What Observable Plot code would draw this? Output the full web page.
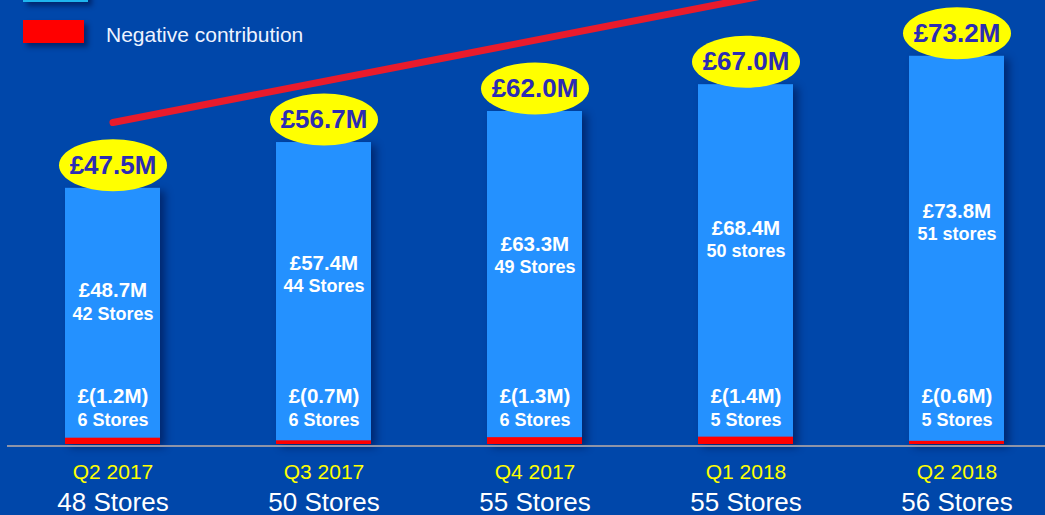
<!DOCTYPE html>
<html>
<head>
<meta charset="utf-8">
<script src="https://cdn.jsdelivr.net/npm/d3@7"></script>
<script src="https://cdn.jsdelivr.net/npm/@observablehq/plot@0.6"></script>
<style>
  html, body { margin: 0; padding: 0; background: #0047AA; overflow: hidden; }
  #wrap { position: relative; width: 1045px; height: 515px; font-family: "Liberation Sans", Arial, sans-serif; }
  #wrap svg { position: absolute; left: 0; top: 0; }
  .legend-box { position: absolute; left: 23px; width: 61px; box-shadow: 4px 4px 5px rgba(0,0,40,0.45); }
  .legend-label { position: absolute; left: 106px; color: #EEF3FF; font-size: 21px; white-space: nowrap; }
</style>
</head>
<body>
<div id="wrap">
  <div class="legend-box" style="top:-24px;height:22px;background:#2490FF;border:2px solid #1EB4EE;"></div>
  <div class="legend-box" style="top:20px;height:23px;background:#FF0000;"></div>
  <div class="legend-label" style="top:23px;line-height:24px;">Negative contribution</div>
</div>
<script>
// ---- data ----
const quarters = ["Q2 2017", "Q3 2017", "Q4 2017", "Q1 2018", "Q2 2018"];
const storeTotals = ["48 Stores", "50 Stores", "55 Stores", "55 Stores", "56 Stores"];
const netTotals = [47.5, 56.7, 62.0, 67.0, 73.2];          // £M, yellow ellipses
const positiveValues = [48.7, 57.4, 63.3, 68.4, 73.8];     // £M, blue bars
const positiveStores = ["42 Stores", "44 Stores", "49 Stores", "50 stores", "51 stores"];
const negativeValues = [1.2, 0.7, 1.3, 1.4, 0.6];          // £M, red bars
const negativeStores = ["6 Stores", "6 Stores", "6 Stores", "5 Stores", "5 Stores"];
const trendQuarters = ["Q2 2017", "Q2 2018"];
const trendValues = [61.2, 92.5];

const rows = quarters.map((q, i) => ({
  q, stores: storeTotals[i], net: netTotals[i], pos: positiveValues[i],
  posStores: positiveStores[i], neg: negativeValues[i], negStores: negativeStores[i]
}));
const trendRows = trendQuarters.map((q, i) => ({q, v: trendValues[i]}));

const fmt = v => "£" + v.toFixed(1) + "M";
const fmtNeg = v => "£(" + v.toFixed(1) + "M)";

// ellipse symbol for the total badges
const ellipse = {
  draw(ctx) {
    const rx = 54, ry = 26, k = 0.5523;
    ctx.moveTo(rx, 0);
    ctx.bezierCurveTo(rx, k * ry, k * rx, ry, 0, ry);
    ctx.bezierCurveTo(-k * rx, ry, -rx, k * ry, -rx, 0);
    ctx.bezierCurveTo(-rx, -k * ry, -k * rx, -ry, 0, -ry);
    ctx.bezierCurveTo(k * rx, -ry, rx, -k * ry, rx, 0);
    ctx.closePath();
  }
};

const font = "Liberation Sans, Arial, sans-serif";

const chart = Plot.plot({
  width: 1045,
  height: 515,
  marginLeft: 7,
  marginRight: 0,
  marginTop: 0,
  marginBottom: 71,
  style: {background: "transparent", fontFamily: font, overflow: "visible"},
  x: {domain: quarters, range: [65, 1004], paddingInner: 0.55, paddingOuter: 0, align: 0.5, axis: null},
  y: {domain: [0, 84.4], range: [444, 0], axis: null},
  marks: [
    Plot.barY(rows, {x: "q", y: "pos", fill: "#2491FF"}),
    Plot.barY(rows, {x: "q", y: "neg", fill: "#FF0000"}),
    Plot.ruleY([0], {stroke: "#8E94A8", strokeWidth: 2, dy: 1.5}),
    Plot.line(trendRows, {x: "q", y: "v", stroke: "#E91B2C", strokeWidth: 7}),
    Plot.dot(rows, {x: "q", y: "pos", dy: -23, symbol: ellipse, fill: "#FFFF00", r: 10}),
    Plot.text(rows, {x: "q", y: "pos", dy: -23, text: d => fmt(d.net), fill: "#2C2CB4", fontSize: 26, fontWeight: "bold"}),
    Plot.text(rows, {x: "q", y: d => d.pos * 0.6, text: d => fmt(d.pos), fill: "white", fontSize: 20.5, fontWeight: "bold"}),
    Plot.text(rows, {x: "q", y: d => d.pos * 0.6, dy: 23, text: "posStores", fill: "white", fontSize: 18, fontWeight: "bold"}),
    Plot.text(rows, {x: "q", y: 0, dy: -48.5, text: d => fmtNeg(d.neg), fill: "white", fontSize: 20.5, fontWeight: "bold"}),
    Plot.text(rows, {x: "q", y: 0, dy: -24.5, text: "negStores", fill: "white", fontSize: 18, fontWeight: "bold"}),
    Plot.text(rows, {x: "q", y: 0, dy: 28, text: "q", fill: "#FFFF00", fontSize: 21}),
    Plot.text(rows, {x: "q", y: 0, dy: 58, text: "stores", fill: "white", fontSize: 26})
  ]
});

const wrap = document.getElementById("wrap");
wrap.insertBefore(chart, wrap.firstChild);
// subtle drop shadow on the blue bars, like the original slide
const bars = chart.querySelectorAll('g[aria-label="bar"]');
if (bars.length) bars[0].style.filter = "drop-shadow(5px 3px 4px rgba(0,0,40,0.45))";
</script>
</body>
</html>
